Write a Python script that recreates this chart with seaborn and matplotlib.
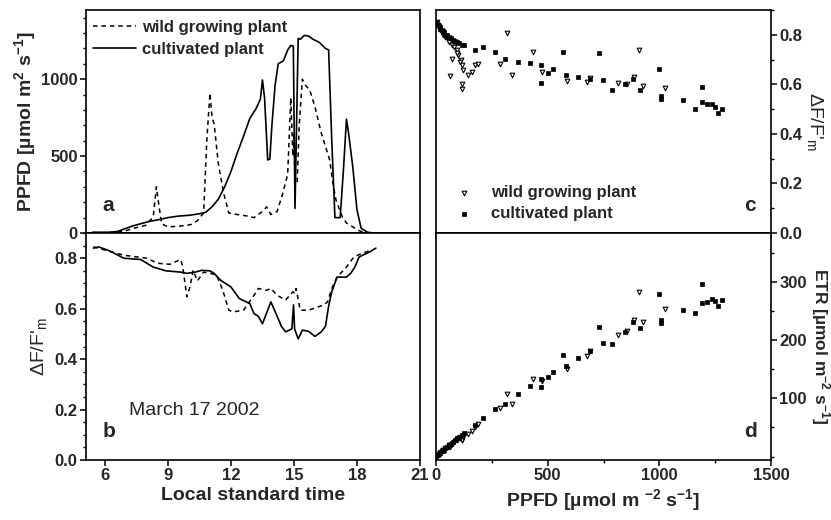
import numpy as np
import pandas as pd
import matplotlib
matplotlib.use("Agg")
import matplotlib.pyplot as plt
from matplotlib.ticker import MultipleLocator
import seaborn as sns

# ---------------- data ----------------
# Panel a: PPFD time course
t_cult_ppfd = [5.4, 5.8, 6.2, 6.6, 6.9, 7.3, 7.7, 8.1, 8.5, 9.0, 9.5, 10.0, 10.5, 10.8, 11.1,
               11.4, 11.7, 12.0, 12.3, 12.6, 12.9, 13.2, 13.4, 13.5, 13.6, 13.75, 13.85, 13.95,
               14.1, 14.25, 14.5, 14.7, 14.85, 14.97, 15.05, 15.2, 15.3, 15.5, 15.7, 15.9, 16.2,
               16.5, 16.65, 16.8, 16.95, 17.2, 17.35, 17.5, 17.6, 17.8, 18.0, 18.2, 18.5, 18.8]
ppfd_cult = [5, 5, 5, 10, 25, 45, 60, 75, 85, 100, 110, 115, 125, 135, 170,
             220, 300, 400, 520, 630, 745, 810, 870, 995, 880, 475, 480, 700,
             960, 1100, 1120, 1190, 1220, 1215, 160, 1265, 1260, 1285, 1280, 1260, 1240,
             1200, 1190, 600, 100, 100, 400, 740, 650, 430, 150, 30, 5, 0]

t_wild_ppfd = [5.4, 6.0, 6.6, 7.0, 7.35, 7.95, 8.3, 8.45, 8.55, 8.7, 9.0, 9.6, 10.1, 10.4, 10.7,
               10.85, 11.0, 11.1, 11.2, 11.4, 11.65, 11.9, 12.3, 12.8, 13.1, 13.5, 13.7, 13.9,
               14.2, 14.45, 14.7, 14.85, 14.95, 15.0, 15.05, 15.15, 15.25, 15.4, 15.55, 15.75,
               16.0, 16.3, 16.7, 16.85, 17.0, 17.3, 17.5, 17.8, 18.1, 18.4]
ppfd_wild = [0, 0, 5, 15, 30, 50, 105, 300, 200, 60, 40, 45, 55, 80, 130,
             600, 910, 750, 710, 450, 260, 130, 120, 110, 100, 140, 170, 120,
             140, 250, 380, 880, 500, 650, 330, 320, 700, 1000, 960, 930,
             820, 650, 475, 330, 215, 105, 65, 40, 15, 0]

# Panel b: yield time course
t_cult_y = [5.45, 5.7, 6.2, 6.9, 7.7, 8.3, 8.9, 9.6, 9.9, 10.3, 10.6, 11.0, 11.2, 11.5, 12.0,
            12.4, 12.9, 13.1, 13.3, 13.5, 13.9, 14.2, 14.4, 14.6, 14.9, 14.98, 15.03, 15.2,
            15.4, 15.7, 16.0, 16.3, 16.5, 16.65, 16.8, 17.05, 17.5, 17.7, 17.9, 18.1, 18.6, 18.9]
y_cult = [0.84, 0.845, 0.83, 0.80, 0.795, 0.765, 0.75, 0.745, 0.74, 0.745, 0.752, 0.75, 0.74,
          0.713, 0.686, 0.64, 0.62, 0.58, 0.57, 0.54, 0.627, 0.57, 0.53, 0.508, 0.52, 0.615,
          0.52, 0.48, 0.515, 0.51, 0.49, 0.508, 0.53, 0.61, 0.667, 0.725, 0.725, 0.74, 0.765,
          0.805, 0.825, 0.84]

t_wild_y = [5.45, 6.9, 8.0, 8.5, 9.1, 9.6, 9.7, 9.9, 10.05, 10.2, 10.4, 10.7, 11.3, 11.6, 11.9,
            12.1, 12.6, 13.1, 13.3, 13.7, 13.9, 14.2, 14.6, 14.95, 15.05, 15.1, 15.3, 15.7,
            16.4, 16.6, 16.8, 17.05, 17.5, 17.85, 18.2, 18.6]
y_wild = [0.845, 0.812, 0.80, 0.78, 0.776, 0.795, 0.77, 0.647, 0.686, 0.752, 0.71, 0.745, 0.735,
          0.676, 0.594, 0.587, 0.594, 0.653, 0.68, 0.673, 0.68, 0.653, 0.634, 0.667, 0.66, 0.68,
          0.594, 0.594, 0.614, 0.627, 0.68, 0.725, 0.765, 0.805, 0.818, 0.83]

# Panels c, d: scatter (PPFD, yield, ETR)
sc_wild_ppfd = [3, 7, 12, 18, 25, 33, 42, 52, 60, 70, 80, 92, 100, 110, 118,
                63, 70, 92, 107, 115, 115, 122, 145, 160, 175, 190, 287, 316, 339, 436,
                473, 585, 675, 690, 817, 854, 888, 911, 928, 1025]
sc_wild_y = [0.85, 0.84, 0.83, 0.82, 0.81, 0.80, 0.79, 0.78, 0.77, 0.76, 0.75, 0.74, 0.72, 0.70, 0.68,
             0.632, 0.704, 0.725, 0.69, 0.581, 0.60, 0.657, 0.636, 0.65, 0.677, 0.684, 0.684, 0.807,
             0.636, 0.731, 0.65, 0.615, 0.608, 0.625, 0.605, 0.602, 0.629, 0.74, 0.592, 0.587]
sc_wild_etr = [1, 2, 4, 6, 9, 11, 14, 17, 19, 22, 25, 29, 30, 32, 34,
               17, 21, 28, 31, 28, 29, 34, 39, 44, 50, 55, 84, 107, 91, 134,
               129, 151, 172, 181, 208, 216, 235, 283, 231, 253]

sc_cult_ppfd = [2, 5, 8, 12, 16, 20, 25, 30, 36, 42, 50, 58, 66, 75, 85, 95, 105, 115, 125,
                175, 212, 264, 309, 369, 421, 469, 469, 503, 526, 570, 582, 637, 689, 730, 746,
                787, 846, 884, 914, 1000, 1006, 1006, 1108, 1160, 1190, 1190, 1212, 1234, 1249,
                1264, 1279]
sc_cult_y = [0.85, 0.845, 0.84, 0.835, 0.83, 0.825, 0.82, 0.815, 0.81, 0.80, 0.80, 0.79, 0.785,
             0.78, 0.775, 0.77, 0.765, 0.76, 0.76,
             0.74, 0.752, 0.731, 0.704, 0.69, 0.686, 0.677, 0.605, 0.646, 0.663, 0.731, 0.636,
             0.629, 0.622, 0.727, 0.618, 0.577, 0.602, 0.622, 0.577, 0.663, 0.554, 0.54, 0.537,
             0.502, 0.588, 0.527, 0.52, 0.52, 0.509, 0.485, 0.50]
sc_cult_etr = [1, 2, 3, 4, 6, 7, 9, 10, 12, 14, 17, 19, 22, 25, 28, 31, 34, 37, 40,
               54, 67, 81, 91, 108, 121, 133, 119, 137, 146, 175, 155, 170, 182, 223, 195,
               193, 214, 231, 221, 280, 235, 229, 251, 246, 297, 263, 265, 271, 267, 258, 269]

# ---------------- style ----------------
sns.set_theme(style="ticks")
plt.rcParams["font.family"] = ["Liberation Sans", "DejaVu Sans"]
plt.rcParams["mathtext.fontset"] = "custom"
plt.rcParams["mathtext.rm"] = "Liberation Sans"
plt.rcParams["mathtext.bf"] = "Liberation Sans:bold"
plt.rcParams["mathtext.default"] = "regular"
plt.rcParams["axes.linewidth"] = 1.2
plt.rcParams["xtick.major.width"] = 1.1
plt.rcParams["ytick.major.width"] = 1.1
plt.rcParams["xtick.minor.width"] = 1.0
plt.rcParams["ytick.minor.width"] = 1.0

fig = plt.figure(figsize=(8.31, 5.2), dpi=100)
W, H = 831, 520


def box(x0, y0, x1, y1):
    return [x0 / W, 1 - y1 / H, (x1 - x0) / W, (y1 - y0) / H]


ax_a = fig.add_axes(box(86, 10, 420, 233))
ax_b = fig.add_axes(box(86, 233, 420, 460))
ax_c = fig.add_axes(box(436, 10, 771, 233))
ax_d = fig.add_axes(box(436, 233, 771, 460))

k = "black"
TRI_S, SQ_S = 11, 9

# Panel a
sns.lineplot(x=t_wild_ppfd, y=ppfd_wild, ax=ax_a, color=k, lw=1.1, linestyle=(0, (3, 2.5)),
             sort=False, estimator=None, label="wild growing plant")
sns.lineplot(x=t_cult_ppfd, y=ppfd_cult, ax=ax_a, color=k, lw=1.2, sort=False,
             estimator=None, label="cultivated plant")
ax_a.set_xlim(5.1, 21)
ax_a.set_ylim(0, 1450)
ax_a.set_xticks([6, 9, 12, 15, 18, 21])
ax_a.set_xticklabels([])
ax_a.set_yticks([0, 500, 1000])
ax_a.yaxis.set_minor_locator(MultipleLocator(100))
ax_a.set_ylabel(r"PPFD [µmol m$^{\mathbf{2}}$ s$^{\mathbf{-1}}$]", fontsize=14, fontweight="bold",
                labelpad=2)
ax_a.legend(loc="upper left", bbox_to_anchor=(-0.01, 1.0), frameon=False,
            prop=dict(size=12, weight="bold"), handlelength=2.6, handletextpad=0.35,
            labelspacing=0.4, borderaxespad=0.2)
ax_a.text(0.05, 0.10, "a", transform=ax_a.transAxes, fontsize=15, fontweight="bold")

# Panel b
sns.lineplot(x=t_wild_y, y=y_wild, ax=ax_b, color=k, lw=1.1, linestyle=(0, (3, 2.5)),
             sort=False, estimator=None)
sns.lineplot(x=t_cult_y, y=y_cult, ax=ax_b, color=k, lw=1.2, sort=False, estimator=None)
ax_b.set_xlim(5.1, 21)
ax_b.set_ylim(0, 0.9)
ax_b.set_xticks([6, 9, 12, 15, 18, 21])
ax_b.set_xticklabels(["6", "9", "12", "15", "18", "21"])
ax_b.set_yticks([0, 0.2, 0.4, 0.6, 0.8])
ax_b.set_yticklabels(["0.0", "0.2", "0.4", "0.6", "0.8"])
ax_b.yaxis.set_minor_locator(MultipleLocator(0.05))
ax_b.set_ylabel(r"ΔF/F$'_{\rm m}$", fontsize=14, labelpad=4)
ax_b.set_xlabel("Local standard time", fontsize=14, fontweight="bold", labelpad=3)
ax_b.text(0.13, 0.20, "March 17 2002", transform=ax_b.transAxes, fontsize=14)
ax_b.text(0.05, 0.10, "b", transform=ax_b.transAxes, fontsize=15, fontweight="bold")

# Panel c
sns.scatterplot(x=sc_wild_ppfd, y=sc_wild_y, ax=ax_c, marker="v", s=TRI_S, facecolor="white",
                edgecolor=k, linewidth=0.8, label="wild growing plant")
sns.scatterplot(x=sc_cult_ppfd, y=sc_cult_y, ax=ax_c, marker="s", s=SQ_S, color=k,
                edgecolor=k, linewidth=0.5, label="cultivated plant")
ax_c.set_xlim(0, 1500)
ax_c.set_ylim(0, 0.9)
ax_c.set_xticks([0, 500, 1000, 1500])
ax_c.xaxis.set_minor_locator(MultipleLocator(250))
ax_c.set_xticklabels([])
ax_c.yaxis.tick_right()
ax_c.yaxis.set_label_position("right")
ax_c.set_yticks([0, 0.2, 0.4, 0.6, 0.8])
ax_c.set_yticklabels(["0.0", "0.2", "0.4", "0.6", "0.8"])
ax_c.yaxis.set_minor_locator(MultipleLocator(0.1))
ax_c.set_ylabel(r"ΔF/F$'_{\rm m}$", fontsize=14, rotation=-90, labelpad=16)
ax_c.legend(loc="lower left", bbox_to_anchor=(0.0, 0.0), frameon=False,
            prop=dict(size=12, weight="bold"), handletextpad=0.6, labelspacing=0.35,
            markerscale=1.0, borderaxespad=0.3)
ax_c.text(0.92, 0.10, "c", transform=ax_c.transAxes, fontsize=15, fontweight="bold")

# Panel d
sns.scatterplot(x=sc_wild_ppfd, y=sc_wild_etr, ax=ax_d, marker="v", s=TRI_S, facecolor="white",
                edgecolor=k, linewidth=0.8)
sns.scatterplot(x=sc_cult_ppfd, y=sc_cult_etr, ax=ax_d, marker="s", s=SQ_S, color=k,
                edgecolor=k, linewidth=0.5)
ax_d.set_xlim(0, 1500)
ax_d.set_ylim(-6, 384)
ax_d.set_xticks([0, 500, 1000, 1500])
ax_d.set_xticklabels(["0", "500", "1000", "1500"])
ax_d.xaxis.set_minor_locator(MultipleLocator(250))
ax_d.yaxis.tick_right()
ax_d.yaxis.set_label_position("right")
ax_d.set_yticks([100, 200, 300])
ax_d.yaxis.set_minor_locator(MultipleLocator(50))
ax_d.set_ylabel(r"ETR [µmol m$^{\mathbf{-2}}$ s$^{\mathbf{-1}}$]", fontsize=12.5, fontweight="bold",
                rotation=-90, labelpad=18)
ax_d.set_xlabel(r"PPFD [µmol m $^{\mathbf{-2}}$ s$^{\mathbf{-1}}$]", fontsize=14,
                fontweight="bold", labelpad=3)
ax_d.text(0.92, 0.10, "d", transform=ax_d.transAxes, fontsize=15, fontweight="bold")

for ax in (ax_a, ax_b, ax_c, ax_d):
    for sp in ax.spines.values():
        sp.set_visible(True)
        sp.set_color(k)
    ax.tick_params(which="major", direction="out", length=4, color=k, pad=2)
    ax.tick_params(which="minor", direction="out", length=2.5, color=k)
    for lab in ax.get_xticklabels() + ax.get_yticklabels():
        lab.set_fontsize(12)
        lab.set_fontweight("bold")
    ax.set_facecolor("white")
    ax.grid(False)

for ax in (ax_a, ax_b):
    ax.tick_params(axis="y", which="both", right=False, left=True)
    ax.tick_params(axis="x", which="both", top=False, bottom=True)
for ax in (ax_c, ax_d):
    ax.tick_params(axis="y", which="both", right=True, left=False)
    ax.tick_params(axis="x", which="both", top=False, bottom=True)

fig.savefig("out.png", dpi=100, facecolor="white")
